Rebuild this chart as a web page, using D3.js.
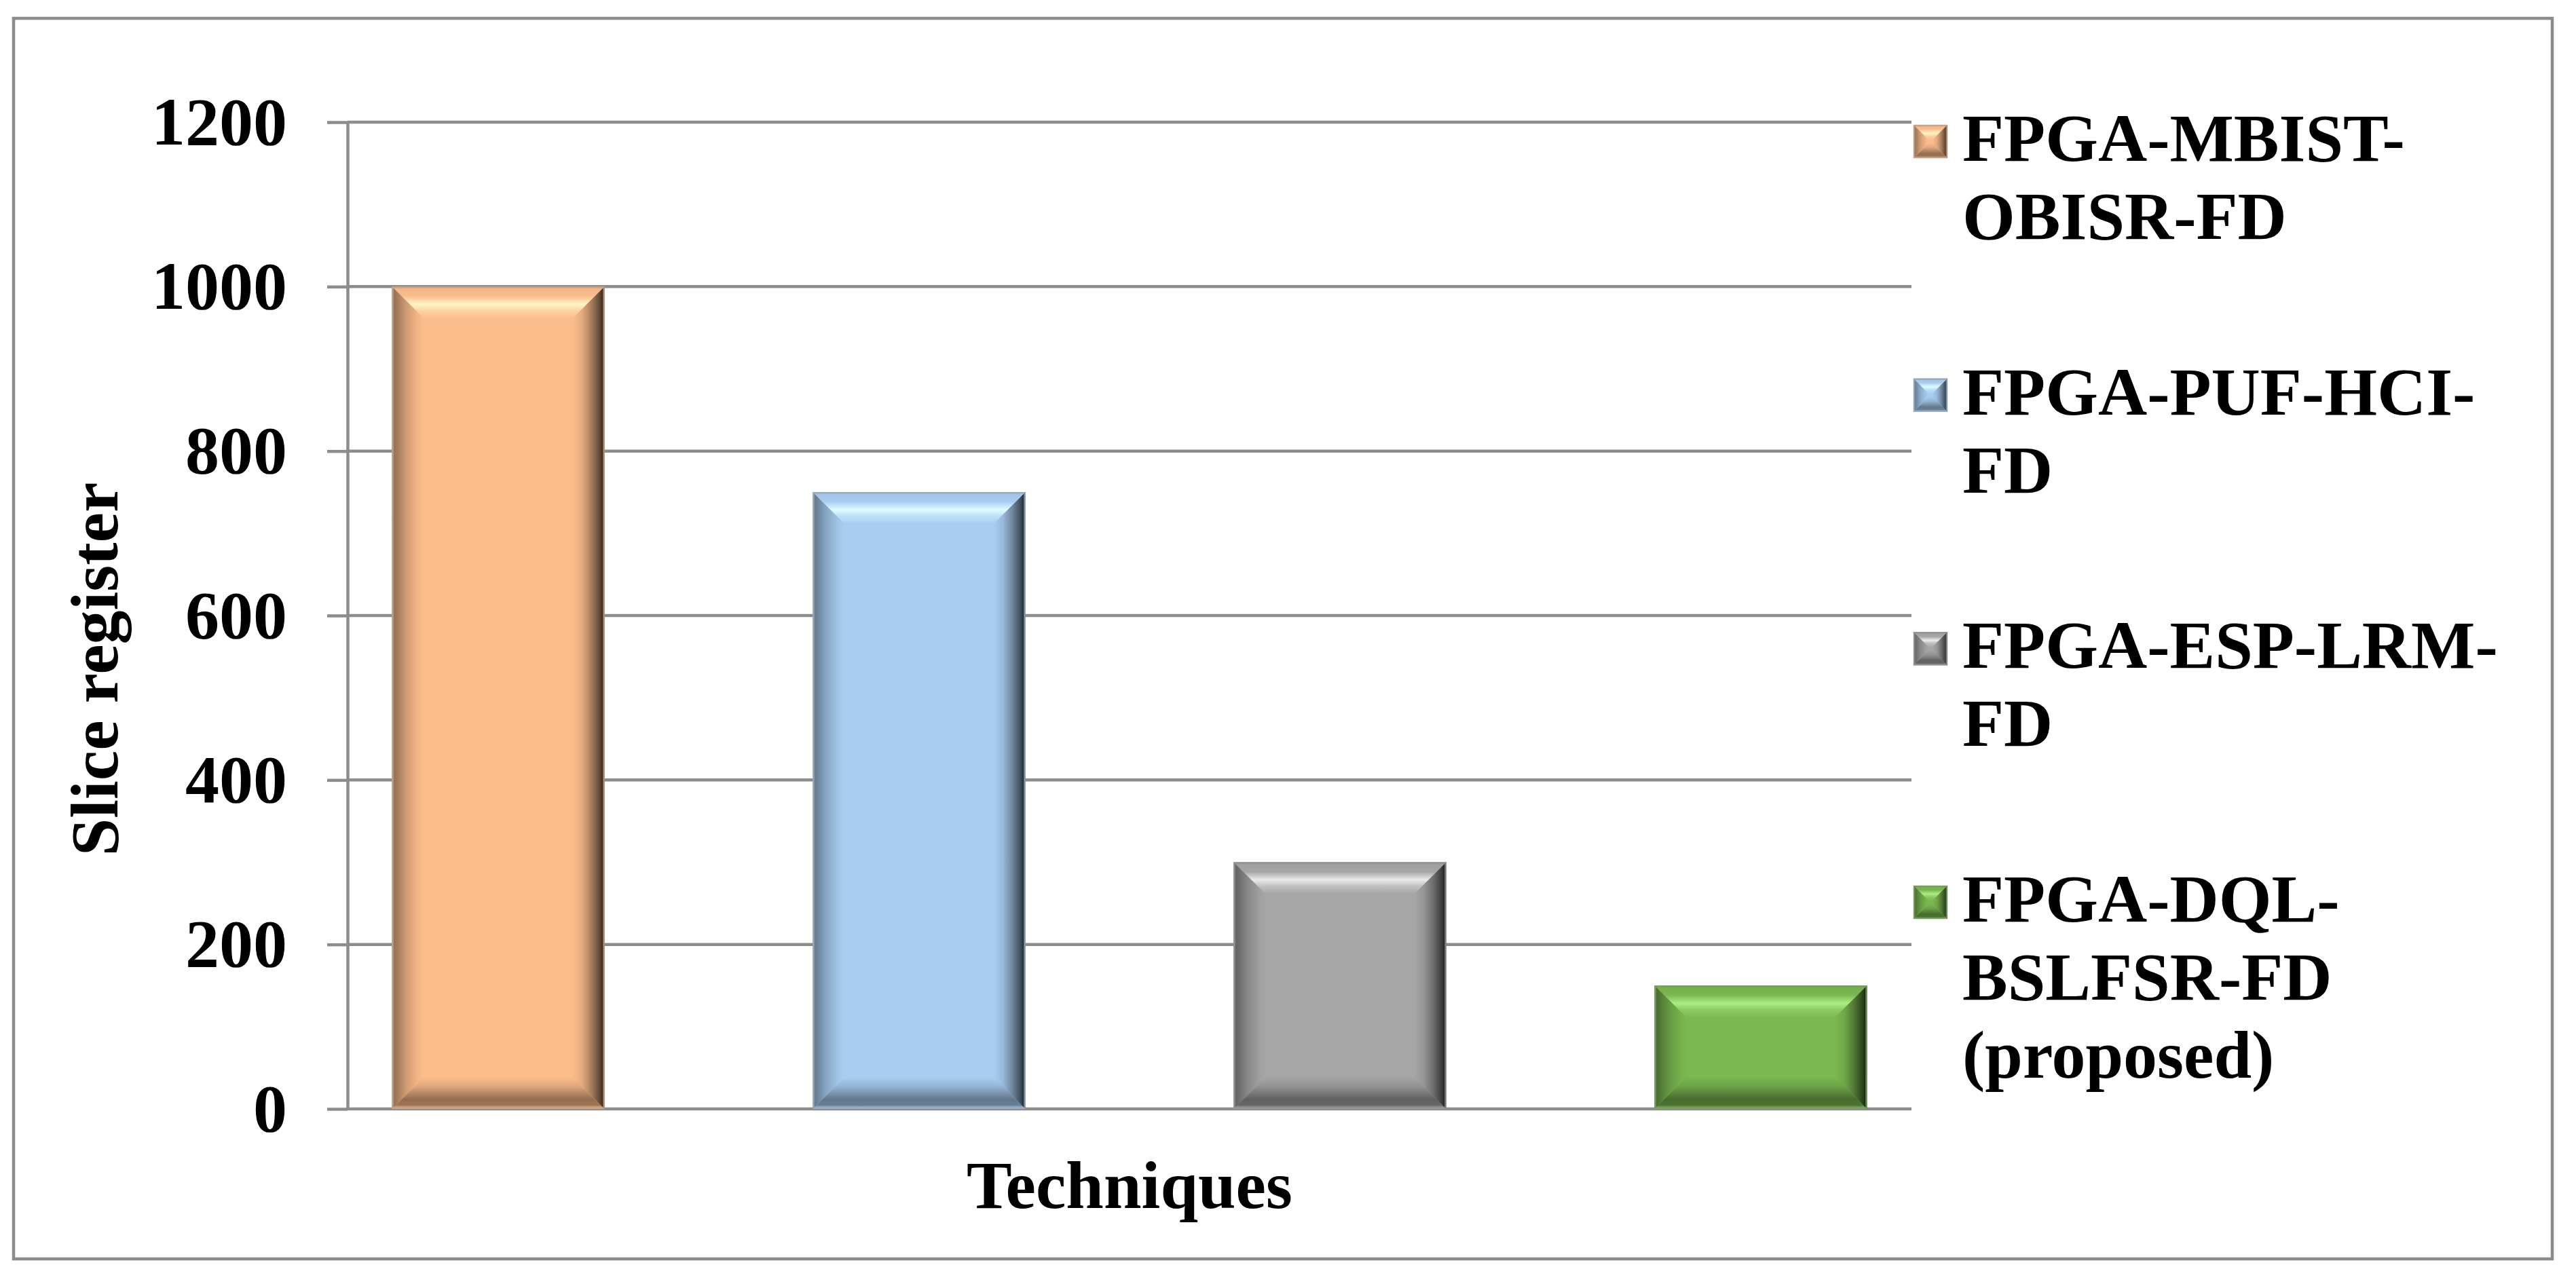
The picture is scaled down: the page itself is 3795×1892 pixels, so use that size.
<!DOCTYPE html>
<html><head><meta charset="utf-8">
<script src="https://cdn.jsdelivr.net/npm/d3@7"></script>
<style>
html,body{margin:0;padding:0;background:#fff;}
svg{display:block;}
</style>
</head><body>
<svg id="chart" width="3795" height="1892"></svg>
<script>
// ---------- data ----------
const seriesNames = ["FPGA-MBIST-OBISR-FD", "FPGA-PUF-HCI-FD", "FPGA-ESP-LRM-FD", "FPGA-DQL-BSLFSR-FD (proposed)"];
const sliceRegister = [1000, 750, 300, 150];
const legendLines = [
  ["FPGA-MBIST-", "OBISR-FD"],
  ["FPGA-PUF-HCI-", "FD"],
  ["FPGA-ESP-LRM-", "FD"],
  ["FPGA-DQL-", "BSLFSR-FD", "(proposed)"]
];
const yTicks = [0, 200, 400, 600, 800, 1000, 1200];
const yTitle = "Slice register";
const xTitle = "Techniques";

// ---------- styles ----------
const baseColors = ["#FCBD8C", "#A9CDF1", "#A6A6A6", "#7AB850"];
const highlightColors = ["#FFF5C8", "#DEFDFF", "#EAEAEA", "#AAEE82"];
const FONT = "'Liberation Serif','Times New Roman',serif";
const GRID = "#8C8C8C";

const svg = d3.select("#chart");
const W = 3795, H = 1892;
svg.append("rect").attr("width", W).attr("height", H).attr("fill", "#fff");

// outer frame
svg.append("rect").attr("x", 20).attr("y", 27).attr("width", 3740).attr("height", 1828)
  .attr("fill", "#fff").attr("stroke", GRID).attr("stroke-width", 4.5);

const plot = {left: 512, right: 2816, top: 180, bottom: 1634};
const y = d3.scaleLinear().domain([0, 1200]).range([plot.bottom, plot.top]);
const x = d3.scaleBand().domain(seriesNames).range([plot.left, plot.right])
  .paddingInner(0.495).paddingOuter(0.1056);

// gridlines
svg.append("g").selectAll("line").data(yTicks).join("line")
  .attr("x1", plot.left).attr("x2", plot.right)
  .attr("y1", d => y(d)).attr("y2", d => y(d))
  .attr("stroke", GRID).attr("stroke-width", 4.5);

// y axis
const yAxis = svg.append("g").attr("transform", `translate(${plot.left},0)`)
  .call(d3.axisLeft(y).tickValues(yTicks).tickSize(30).tickSizeOuter(0).tickPadding(59).tickFormat(d3.format("d")));
yAxis.attr("font-family", FONT).attr("font-size", 100).attr("font-weight", "bold");
yAxis.selectAll("path,line").attr("stroke", GRID).attr("stroke-width", 4.5);
yAxis.selectAll("text").attr("fill", "#000").attr("dy", "0.32em");

// gradients
const defs = svg.append("defs");
const mix = (a, b, t) => d3.interpolateRgb(a, b)(t);
function makeGrad(id, vertical, stops) {
  const g = defs.append("linearGradient").attr("id", id)
    .attr("x1", 0).attr("y1", 0).attr("x2", vertical ? 0 : 1).attr("y2", vertical ? 1 : 0);
  stops.forEach(([o, c]) => g.append("stop").attr("offset", o).attr("stop-color", c));
}
baseColors.forEach((c, i) => {
  const hi = highlightColors[i];
  makeGrad(`top${i}`, true, [[0, mix(c, "#000", 0.06)], [0.3, c], [0.55, hi], [0.75, mix(c, hi, 0.4)], [1, c]]);
  makeGrad(`left${i}`, false, [[0, mix(c, "#888", 0.5)], [0.07, mix(c, "#000", 0.4)], [0.45, mix(c, "#000", 0.18)], [0.8, mix(c, "#000", 0.04)], [1, c]]);
  makeGrad(`right${i}`, false, [[0, c], [0.3, mix(c, "#000", 0.1)], [0.6, mix(c, "#000", 0.35)], [0.85, mix(c, "#000", 0.62)], [0.95, mix(c, "#000", 0.78)], [1, mix(c, "#000", 0.55)]]);
  makeGrad(`bot${i}`, true, [[0, c], [0.3, mix(c, "#000", 0.12)], [0.7, mix(c, "#000", 0.42)], [0.88, mix(c, "#000", 0.38)], [1, mix(c, "#fff", 0.15)]]);
});

function bevelBox(g, i, x0, y0, x1, y1, b) {
  b = Math.min(b, (x1 - x0) / 2, (y1 - y0) / 2);
  const c = baseColors[i];
  g.append("rect").attr("x", x0).attr("y", y0).attr("width", x1 - x0).attr("height", y1 - y0).attr("fill", c);
  const poly = (pts, fill) => g.append("polygon").attr("points", pts.map(p => p.join(",")).join(" ")).attr("fill", fill);
  poly([[x0, y0], [x1, y0], [x1 - b, y0 + b], [x0 + b, y0 + b]], `url(#top${i})`);
  poly([[x0, y1], [x1, y1], [x1 - b, y1 - b], [x0 + b, y1 - b]], `url(#bot${i})`);
  poly([[x0, y0], [x0 + b, y0 + b], [x0 + b, y1 - b], [x0, y1]], `url(#left${i})`);
  poly([[x1, y0], [x1 - b, y0 + b], [x1 - b, y1 - b], [x1, y1]], `url(#right${i})`);
  g.append("rect").attr("x", x0 + 1).attr("y", y0 + 1).attr("width", x1 - x0 - 2).attr("height", y1 - y0 - 2)
    .attr("fill", "none").attr("stroke", mix(c, "#777", 0.45)).attr("stroke-width", 2.5).attr("opacity", 0.8);
}

// bars
const barsG = svg.append("g");
seriesNames.forEach((s, i) => {
  const g = barsG.append("g");
  bevelBox(g, i, x(s), y(sliceRegister[i]), x(s) + x.bandwidth(), y(0), 47);
});

// axis titles
svg.append("text").attr("transform", `translate(173,986) rotate(-90)`)
  .attr("text-anchor", "middle").attr("font-family", FONT).attr("font-weight", "bold")
  .attr("font-size", 100).text(yTitle);
svg.append("text").attr("x", (plot.left + plot.right) / 2).attr("y", 1780)
  .attr("text-anchor", "middle").attr("font-family", FONT).attr("font-weight", "bold")
  .attr("font-size", 100).text(xTitle);

// legend
const legend = svg.append("g");
const legY = d3.scalePoint().domain(seriesNames).range([237, 1358]);
seriesNames.forEach((s, i) => {
  const base = legY(s);
  const g = legend.append("g");
  bevelBox(g, i, 2819, base - 53, 2869, base - 4, 22);
  const t = g.append("text").attr("x", 2891).attr("y", base)
    .attr("font-family", FONT).attr("font-weight", "bold").attr("font-size", 100);
  legendLines[i].forEach((ln, k) => {
    t.append("tspan").attr("x", 2891).attr("y", base + k * 115).text(ln);
  });
});
</script>
</body></html>
